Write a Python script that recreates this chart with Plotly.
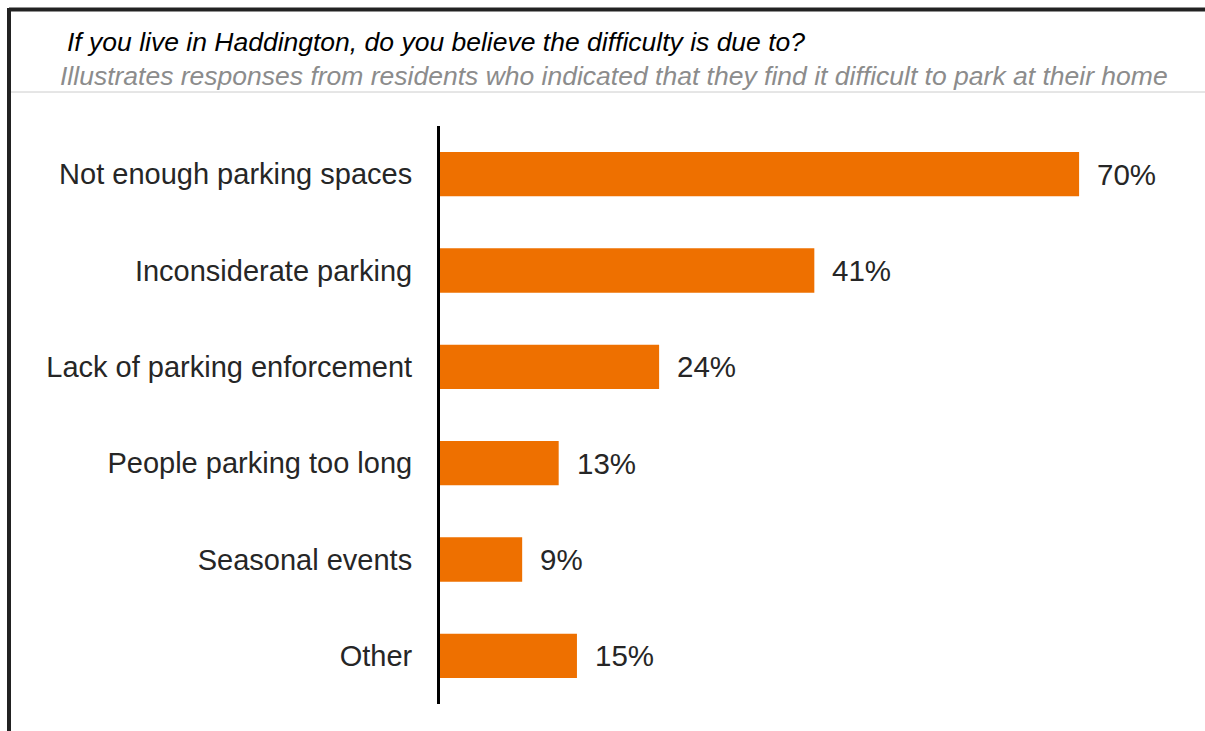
import plotly.graph_objects as go

# Survey responses (share of respondents, %)
categories = [
    "Not enough parking spaces",
    "Inconsiderate parking",
    "Lack of parking enforcement",
    "People parking too long",
    "Seasonal events",
    "Other",
]
values = [70, 41, 24, 13, 9, 15]
value_labels = ["70%", "41%", "24%", "13%", "9%", "15%"]

title_text = "If you live in Haddington, do you believe the difficulty is due to?"
subtitle_text = ("Illustrates responses from residents who indicated that they "
                 "find it difficult to park at their home")

W, H = 1205, 731
BAR_COLOR = "#EE7000"
FONT = "Liberation Sans, Arial, sans-serif"

# plot area in pixels
x0_px, x1_px = 440, 1160
y_top_px, y_bot_px = 126, 704
px_per_unit = 9.13
x_max = (x1_px - x0_px) / px_per_unit


def px_x(p):
    return p / W


def px_y(p):
    return 1 - p / H


fig = go.Figure(
    go.Bar(
        x=values,
        y=categories,
        orientation="h",
        marker=dict(color=BAR_COLOR, line=dict(width=0)),
        width=0.46,
        hoverinfo="skip",
    )
)

for cat, v, lab in zip(categories, values, value_labels):
    fig.add_annotation(
        x=v, y=cat, xref="x", yref="y",
        text=lab, showarrow=False,
        xanchor="left", xshift=16,
        font=dict(family=FONT, size=29.5, color="#262626"),
    )

fig.add_annotation(
    x=px_x(65), y=px_y(42), xref="paper", yref="paper",
    text="<i>" + title_text + "</i>", showarrow=False,
    xanchor="left", yanchor="middle",
    font=dict(family=FONT, size=26.5, color="#000000"),
)
fig.add_annotation(
    x=px_x(58), y=px_y(76), xref="paper", yref="paper",
    text="<i>" + subtitle_text + "</i>", showarrow=False,
    xanchor="left", yanchor="middle",
    font=dict(family=FONT, size=26.5, color="#8C8C8C"),
)

# frame around the chart and separator under the heading
fig.add_shape(type="line", xref="paper", yref="paper",
              x0=px_x(9), x1=px_x(W + 5), y0=px_y(9.5), y1=px_y(9.5),
              line=dict(color="#222222", width=4))
fig.add_shape(type="line", xref="paper", yref="paper",
              x0=px_x(9), x1=px_x(9), y0=px_y(8), y1=px_y(H + 5),
              line=dict(color="#222222", width=4))
fig.add_shape(type="line", xref="paper", yref="paper",
              x0=px_x(11), x1=px_x(W), y0=px_y(92), y1=px_y(92),
              line=dict(color="#CCCCCC", width=1))

fig.update_layout(
    width=W, height=H,
    margin=dict(l=0, r=0, t=0, b=0),
    paper_bgcolor="white", plot_bgcolor="white",
    showlegend=False,
    bargap=0.54,
    xaxis=dict(
        domain=[px_x(x0_px), px_x(x1_px)],
        range=[0, x_max],
        showticklabels=False, showgrid=False, zeroline=False,
        showline=False, fixedrange=True,
    ),
    yaxis=dict(
        domain=[px_y(y_bot_px), px_y(y_top_px)],
        autorange="reversed",
        showgrid=False, zeroline=False,
        showline=True, linecolor="#000000", linewidth=3,
        ticks="", ticklabelstandoff=19,
        tickfont=dict(family=FONT, size=29, color="#262626"),
        fixedrange=True,
    ),
)

fig.write_html("out.html")
